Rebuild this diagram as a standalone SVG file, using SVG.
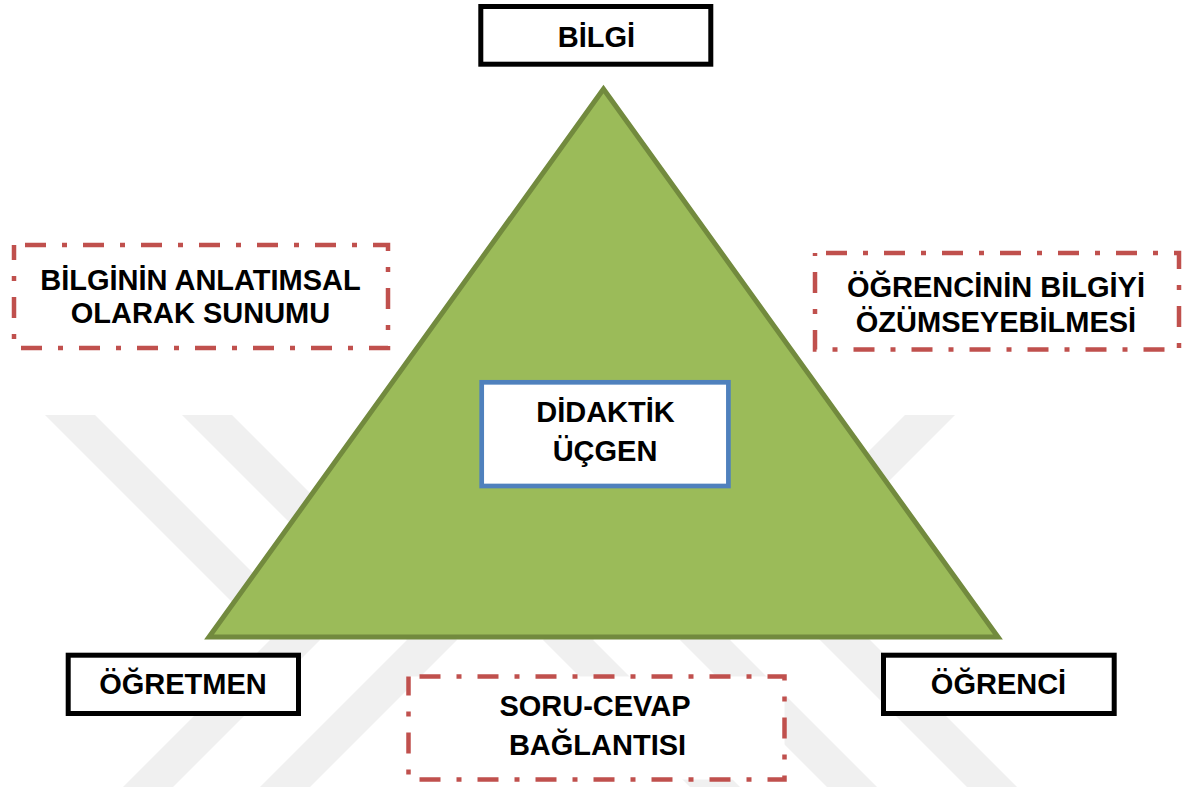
<svg xmlns="http://www.w3.org/2000/svg" width="1184" height="787" viewBox="0 0 1184 787">
<defs>
<style>
.wm{fill:#f0f0f0}
.tri{fill:#9bbb59;stroke:#728a3e;stroke-width:5;stroke-linejoin:miter}
.lbl{font-family:"Liberation Sans",Arial,sans-serif;font-weight:bold;font-size:29px;fill:#000;text-anchor:middle}
.solid{fill:#fff;stroke:#000;stroke-width:5}
.dash{fill:#fff;stroke:#c0504d;stroke-width:4.5;stroke-dasharray:21 16 5 16;stroke-dashoffset:47}
.blue{fill:#fff;stroke:#4f81bd;stroke-width:4.7}
</style>
</defs>
<rect width="1184" height="787" fill="#fff"/>
<g id="watermark">
<polygon class="wm" points="45,415 95,415 320,640 173,787 123,787 270,640"/>
<polygon class="wm" points="182,415 232,415 457,640 310,787 260,787 407,640"/>
<polygon class="wm" points="955,415 905,415 680,640 827,787 877,787 730,640"/>
<polygon class="wm" points="818,415 768,415 543,640 690,787 740,787 593,640"/>
<polygon class="wm" points="780,600 830,600 1017,787 967,787"/>
</g>
<g id="triangle">
<polygon class="tri" points="603.5,89 209,637 998,637"/>
</g>
<g id="connectors"></g>
<g id="bilgi">
<rect class="solid" x="480.8" y="6.5" width="230" height="57.7"/>
<text class="lbl" x="596.5" y="46.7">BİLGİ</text>
</g>
<g id="ogretmen">
<rect class="solid" x="68.2" y="655.2" width="230.3" height="58.3"/>
<text class="lbl" x="183" y="694.3">ÖĞRETMEN</text>
</g>
<g id="ogrenci">
<rect class="solid" x="883.5" y="655.2" width="230.7" height="58.3"/>
<text class="lbl" x="998.5" y="694.3">ÖĞRENCİ</text>
</g>
<g id="didaktik-ucgen">
<rect class="blue" x="481.7" y="382.3" width="246.7" height="103.7"/>
<text class="lbl" x="605.5" y="422.3">DİDAKTİK</text>
<text class="lbl" x="605" y="460.7">ÜÇGEN</text>
</g>
<g id="bilginin-anlatimsal-sunumu">
<rect class="dash" x="14" y="245" width="374" height="103"/>
<text class="lbl" x="200.5" y="289.5">BİLGİNİN ANLATIMSAL</text>
<text class="lbl" x="200.5" y="323">OLARAK SUNUMU</text>
</g>
<g id="ogrencinin-bilgiyi-ozumseyebilmesi">
<rect class="dash" x="815" y="253" width="364" height="96.5"/>
<text class="lbl" x="996" y="296.7">ÖĞRENCİNİN BİLGİYİ</text>
<text class="lbl" x="996" y="331.7">ÖZÜMSEYEBİLMESİ</text>
</g>
<g id="soru-cevap-baglantisi">
<rect class="dash" x="408.5" y="676.5" width="376" height="103"/>
<text class="lbl" x="595" y="716">SORU-CEVAP</text>
<text class="lbl" x="597.5" y="755">BAĞLANTISI</text>
</g>
</svg>
